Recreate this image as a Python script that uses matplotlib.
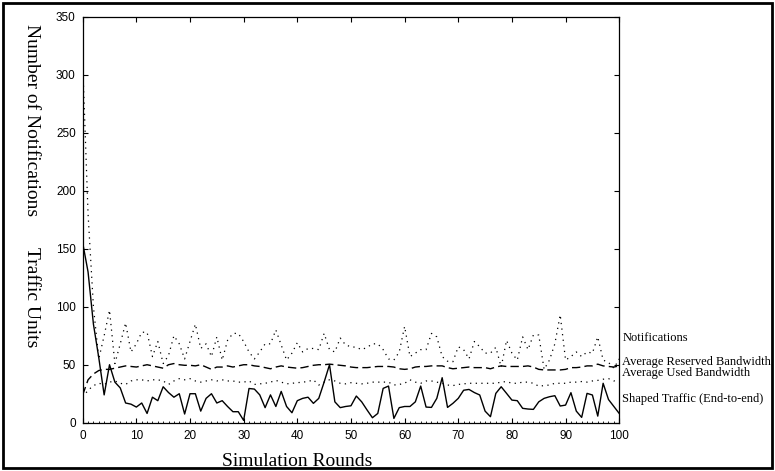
import numpy as np
import matplotlib
matplotlib.use('Agg')
import matplotlib.pyplot as plt
from matplotlib.patches import Rectangle
from matplotlib.ticker import MultipleLocator

rounds = np.arange(0, 101)

notifications = [310, 180, 100, 55, 75, 97, 51, 68, 86, 61, 68, 78, 78, 57, 70, 51, 58, 75, 68, 55,
                 70, 85, 64, 68, 57, 74, 54, 71, 77, 77, 70, 61, 55, 61, 68, 68, 80, 67, 54, 60,
                 69, 61, 64, 64, 63, 77, 63, 61, 73, 67, 65.5, 65, 63, 65, 68, 68, 63, 55, 54, 61,
                 83, 57, 60, 63, 63, 77, 74, 57, 53, 52.6, 65.5, 63, 55, 70, 65.5, 60, 60, 65, 48, 71,
                 60, 54, 74, 63, 75.6, 75.6, 46, 54, 68, 93, 54, 57, 61, 57, 61, 60, 74, 54, 52, 47,
                 55]

reserved_bw = [24, 37, 42, 45, 46, 46, 47, 48, 49, 48.5, 48, 49, 50, 49, 48, 47, 50, 51, 50, 49.5,
               49.5, 49, 50, 48, 46, 48, 48, 49, 48, 49, 50, 50, 49, 48.5, 47.5, 46.5, 48, 49, 48, 47.5,
               47, 47.5, 48.5, 49.5, 50, 50, 50.5, 50, 49.5, 49, 48, 47.5, 47.5, 47.5, 48, 48.5, 48.5, 48.5, 48, 46.5,
               46, 46.5, 48, 48.5, 48.5, 49, 49, 49, 47.5, 46.5, 47, 47.5, 48, 47.5, 47.5, 47.5, 46.5, 48, 49, 48.5,
               48.5, 48.5, 48.5, 49, 48, 46, 45.5, 45.5, 45.5, 45.5, 46, 47.5, 47.5, 48, 49, 49, 50.5, 49, 48.5, 48,
               49]

used_bw = [22, 28, 32, 34, 33, 35, 36, 34, 33, 36, 37, 37, 36, 37, 37, 36, 33, 36, 38, 37,
           38, 36, 35, 36, 37, 36, 37, 36, 36, 35, 35, 36, 33, 33.5, 34, 35, 36.5, 35, 33.5, 34,
           34.5, 35, 35.5, 37, 32.5, 35, 37, 36, 34, 33.5, 34.5, 34, 33.5, 34, 35, 35, 35, 35, 32.5, 33,
           34, 37, 35, 34, 36, 36, 35, 34, 32.5, 32, 33, 33.5, 34, 34, 34, 34, 34, 34, 35, 35.5,
           34, 34, 35, 35, 34, 31.5, 32, 32.5, 34, 34, 34, 35, 35, 35.5, 35, 36, 36.5, 37.5, 38, 36,
           37]

shaped_traffic = [155, 130, 85, 56, 24, 50, 35, 30, 17, 16, 13.5, 17, 8, 22, 19, 31, 26, 22, 25, 7.5,
                  25, 25, 10, 21, 25, 17, 19, 14, 9.5, 9.5, 2, 29.5, 29, 24, 13, 24, 14, 27, 14, 8.6,
                  19, 21, 22, 16.7, 21, 35, 50, 18, 13, 14, 14.6, 23, 18, 11, 4.3, 8, 29.6, 31.6, 3.7, 13,
                  14, 14, 18, 31.6, 13.5, 13.2, 21, 38.8, 13.2, 16.7, 21, 28, 28.7, 26, 23.9, 10, 5.2, 25.3, 31, 25.3,
                  19.5, 19, 12.4, 11.8, 11.5, 18, 21, 22.4, 23.3, 14.4, 15.2, 25.9, 10, 4.6, 25.3, 23.9, 5.7, 34, 20, 14,
                  8]

series_labels = ['Notifications', 'Average Reserved Bandwidth',
                 'Average Used Bandwidth', 'Shaped Traffic (End-to-end)']
label_y = [72.8, 52, 42.6, 20.2]

serif = ['Liberation Serif', 'DejaVu Serif']
sans = ['Liberation Sans', 'DejaVu Sans']

fig = plt.figure(figsize=(7.75, 4.71), dpi=100)
ax = fig.add_axes([0.1067, 0.1025, 0.6923, 0.862])

ax.plot(rounds, notifications, color='black', lw=0.9, linestyle=(0, (1, 3.5)))
ax.plot(rounds, reserved_bw, color='black', lw=1.0, linestyle=(0, (6, 3)))
ax.plot(rounds, used_bw, color='black', lw=0.9, linestyle=(0, (1, 3.5)))
ax.plot(rounds, shaped_traffic, color='black', lw=1.0)

ax.set_xlim(0, 100)
ax.set_ylim(0, 350)
ax.xaxis.set_major_locator(MultipleLocator(10))
ax.xaxis.set_minor_locator(MultipleLocator(1))
ax.yaxis.set_major_locator(MultipleLocator(50))
ax.tick_params(which='major', direction='in', length=3.5, width=0.8,
               top=True, right=True, labelsize=8.5, pad=5)
ax.tick_params(which='minor', direction='in', length=1.5, width=0.6,
               top=False, right=False, left=False)
ax.yaxis.set_minor_locator(plt.NullLocator())
for lab in ax.get_xticklabels() + ax.get_yticklabels():
    lab.set_family(sans)
for s in ax.spines.values():
    s.set_linewidth(0.9)

for txt, yv in zip(series_labels, label_y):
    ax.text(100.6, yv, txt, ha='left', va='center', fontsize=9.0,
            family=serif, clip_on=False)

fig.text(0.041, 0.745, 'Number of Notifications', rotation=270, ha='center',
         va='center', fontsize=14, family=serif)
fig.text(0.041, 0.368, 'Traffic Units', rotation=270, ha='center',
         va='center', fontsize=14, family=serif)
fig.text(0.384, 0.021, 'Simulation Rounds', ha='center', va='center',
         fontsize=14, family=serif)

fig.patches.append(Rectangle((0.004, 0.006), 0.992, 0.988, transform=fig.transFigure,
                             fill=False, lw=2, ec='black'))

fig.savefig('out.png', dpi=100)
